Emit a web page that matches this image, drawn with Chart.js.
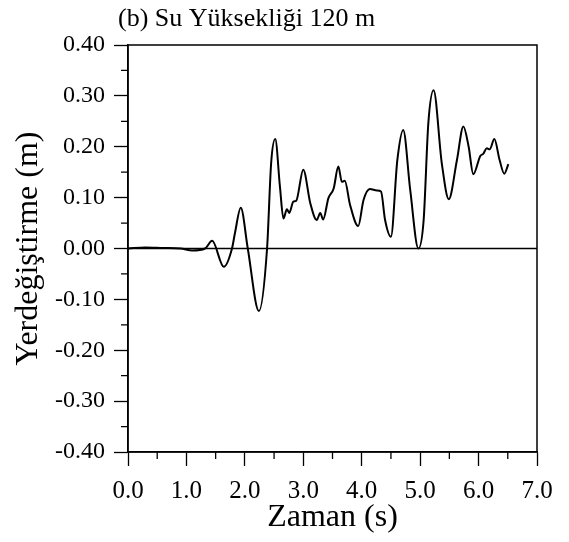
<!DOCTYPE html>
<html lang="tr">
<head>
<meta charset="UTF-8">
<title>Su Yüksekliği 120 m</title>
<script src="https://cdn.jsdelivr.net/npm/chart.js"></script>
<style>
  body { margin: 0; background: #fff; }
  #wrap { width: 569px; height: 542px; }
</style>
</head>
<body>
<div id="wrap"><canvas id="dispChart" width="569" height="542"></canvas></div>
<script>
// values
const timeS = [0, 0.3, 0.6, 0.9, 1.10, 1.32, 1.44, 1.64, 1.78, 1.83, 1.93, 2.05, 2.24, 2.38,
  2.45, 2.52, 2.60, 2.66, 2.72, 2.76, 2.83, 2.88, 3.00, 3.12, 3.23, 3.29, 3.34, 3.43, 3.52,
  3.60, 3.66, 3.71, 3.80, 3.94, 4.03, 4.14, 4.26, 4.33, 4.40, 4.50, 4.61, 4.71, 4.83, 4.97,
  5.06, 5.14, 5.23, 5.37, 5.49, 5.63, 5.74, 5.83, 5.91, 6.03, 6.08, 6.14, 6.19, 6.27, 6.36,
  6.44, 6.51];
const dispM = [0, 0.002, 0.001, 0.0, -0.004, 0.0, 0.015, -0.036, 0.0, 0.030, 0.080, 0.0, -0.123, 0.0,
  0.168, 0.215, 0.122, 0.059, 0.077, 0.070, 0.092, 0.094, 0.155, 0.089, 0.056, 0.070, 0.057, 0.099, 0.118,
  0.161, 0.131, 0.133, 0.086, 0.044, 0.095, 0.117, 0.114, 0.112, 0.056, 0.023, 0.174, 0.233, 0.115, 0.0,
  0.056, 0.246, 0.311, 0.168, 0.097, 0.174, 0.240, 0.200, 0.146, 0.182, 0.186, 0.197, 0.195, 0.215, 0.174,
  0.147, 0.166];

const xTickValues = [0, 1, 2, 3, 4, 5, 6, 7];
const yTickValues = [-0.4, -0.3, -0.2, -0.1, 0, 0.1, 0.2, 0.3, 0.4];

const chartTitle = '(b) Su Yüksekliği 120 m';
const xTitle = 'Zaman (s)';
const yTitle = 'Yerdeğiştirme (m)';

const FONT = "'Liberation Serif', 'DejaVu Serif', serif";

// frame box, zero line, half-step minor ticks and the title text
const framePlugin = {
  id: 'frame',
  beforeDatasetsDraw(chart) {
    const { ctx, chartArea: a, scales: { y } } = chart;
    const y0 = y.getPixelForValue(0);
    ctx.save();
    ctx.strokeStyle = '#000';
    ctx.lineWidth = 1.3;
    ctx.beginPath();
    ctx.moveTo(a.left, y0);
    ctx.lineTo(a.right, y0);
    ctx.stroke();
    ctx.restore();
  },
  afterDraw(chart) {
    const { ctx, chartArea: a, scales: { x, y } } = chart;
    ctx.save();
    ctx.strokeStyle = '#000';
    ctx.lineWidth = 1.5;
    ctx.strokeRect(a.left, a.top, a.right - a.left, a.bottom - a.top);

    ctx.lineWidth = 1.3;
    ctx.beginPath();
    for (let i = 0; i < xTickValues.length - 1; i++) {
      const px = x.getPixelForValue((xTickValues[i] + xTickValues[i + 1]) / 2);
      ctx.moveTo(px, a.bottom);
      ctx.lineTo(px, a.bottom + 7);
    }
    for (let i = 0; i < yTickValues.length - 1; i++) {
      const py = y.getPixelForValue((yTickValues[i] + yTickValues[i + 1]) / 2);
      ctx.moveTo(a.left, py);
      ctx.lineTo(a.left - 7, py);
    }
    ctx.stroke();

    ctx.fillStyle = '#000';
    ctx.font = '26px ' + FONT;
    ctx.textAlign = 'left';
    ctx.textBaseline = 'middle';
    ctx.fillText(chartTitle, a.left - 10, 19);
    ctx.restore();
  }
};

const ctx = document.getElementById('dispChart').getContext('2d');

new Chart(ctx, {
  type: 'line',
  data: {
    datasets: [{
      data: timeS.map((t, i) => ({ x: t, y: dispM[i] })),
      borderColor: '#000',
      borderWidth: 2,
      pointRadius: 0,
      fill: false,
      tension: 0.4,
      cubicInterpolationMode: 'monotone'
    }]
  },
  options: {
    responsive: false,
    animation: false,
    layout: { padding: { top: 45, right: 32, left: 0, bottom: 0 } },
    plugins: {
      legend: { display: false },
      tooltip: { enabled: false }
    },
    scales: {
      x: {
        type: 'linear',
        min: 0,
        max: 7,
        afterBuildTicks: s => { s.ticks = xTickValues.map(v => ({ value: v })); },
        afterFit: s => { s.height = 90; },
        ticks: {
          callback: v => v.toFixed(1),
          color: '#000',
          font: { family: FONT, size: 25 },
          padding: 10,
          maxRotation: 0,
          autoSkip: false
        },
        grid: { drawOnChartArea: false, tickLength: 14, tickColor: '#000', tickWidth: 1.3 },
        border: { display: true, color: '#000', width: 1.5 },
        title: {
          display: true,
          text: xTitle,
          color: '#000',
          font: { family: FONT, size: 32 },
          padding: { top: 0, bottom: 5 }
        }
      },
      y: {
        min: -0.4,
        max: 0.4,
        afterBuildTicks: s => { s.ticks = yTickValues.map(v => ({ value: v })); },
        afterFit: s => { s.width = 128; },
        ticks: {
          callback: v => v.toFixed(2),
          color: '#000',
          font: { family: FONT, size: 24 },
          padding: 9,
          autoSkip: false
        },
        grid: { drawOnChartArea: false, tickLength: 14, tickColor: '#000', tickWidth: 1.3 },
        border: { display: true, color: '#000', width: 1.5 },
        title: {
          display: true,
          text: yTitle,
          color: '#000',
          font: { family: FONT, size: 32 },
          padding: { top: 9, bottom: 0 }
        }
      }
    }
  },
  plugins: [framePlugin]
});
</script>
</body>
</html>
